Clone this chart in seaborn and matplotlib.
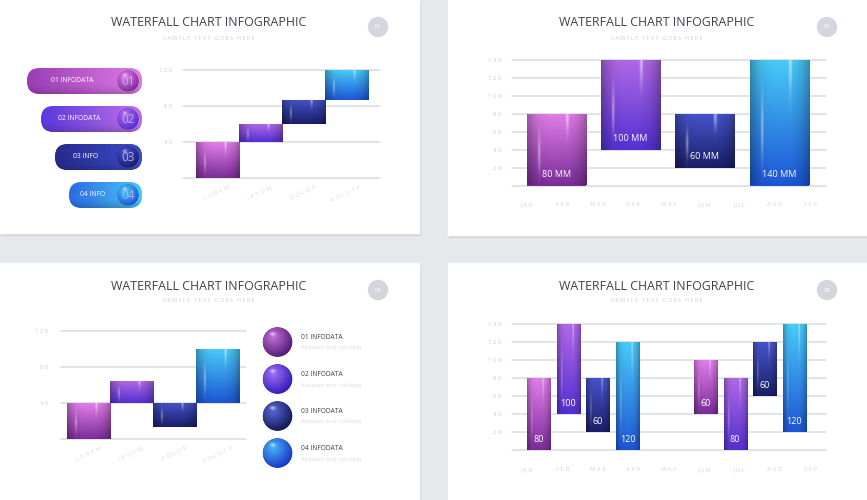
"""
Waterfall chart infographic - four panels on light cards.
"""
import numpy as np
import matplotlib
matplotlib.use("Agg")
import matplotlib.pyplot as plt
import seaborn as sns
from matplotlib.colors import to_rgb
from matplotlib.patches import Rectangle, Circle, FancyBboxPatch

sns.set_style("white")
plt.rcParams['font.family'] = ['Open Sans', 'DejaVu Sans']

# ---- data -------------------------------------------------------------
title = "WATERFALL CHART INFOGRAPHIC"
subtitle = "SAMPLE TEXT GOES HERE"

p1_cats = ['LOREM', 'IPSUM', 'DOLOR', 'VOLUTP']
p1_base = [0, 40, 60, 87]
p1_top = [40, 60, 87, 120]
p1_yticks = [40, 80, 120]
p1_pills = ['01 INFODATA', '02 INFODATA', '03 INFO', '04 INFO']
p1_nums = ['01', '02', '03', '04']

months = ['JAN', 'FEB', 'MAR', 'APR', 'MAY', 'JUN', 'JUL', 'AUG', 'SEP']
p2_base = [0, 40, 20, 0]
p2_top = [80, 140, 80, 140]
p2_labels = ['80 MM', '100 MM', '60 MM', '140 MM']
p2_yticks = [20, 40, 60, 80, 100, 120, 140]

p3_cats = ['LOREM', 'IPSUM', 'DOLOR', 'VOLUTP']
p3_base = [0, 40, 13, 40]
p3_top = [40, 64, 40, 100]
p3_legend = ['01 INFODATA', '02 INFODATA', '03 INFODATA', '04 INFODATA']
p3_sub = 'Aliquam erat volutpat'

p4_base = [0, 40, 20, 0, 40, 0, 60, 20]
p4_top = [80, 140, 80, 120, 100, 80, 120, 140]
p4_labels = ['80', '100', '60', '120', '60', '80', '60', '120']

# gradient colours (top, bottom) for the four series
palette = [('#e27ee9', '#7a2d9a'),
           ('#b068e6', '#5330d2'),
           ('#4654cc', '#1a1e68'),
           ('#48cbf8', '#1d55d6')]
pill_cols = [('#9a3db6', '#de7ae6'),
             ('#5a38e2', '#c070e2'),
             ('#262b8c', '#3c4cc8'),
             ('#2a6ae6', '#4cc8f4')]
sphere_cols = [('#c070d8', '#4e1870'),
               ('#a070f4', '#3018b8'),
               ('#5866d6', '#10154e'),
               ('#48b4f8', '#1530c4')]

W, H = 867, 500
GRID = '#d7dbe2'
TICK = '#c8cdd5'


def spaced(s):
    # crude letter spacing
    return ' '.join(s)


def px(x, y, w, h):
    return [x / W, 1 - (y + h) / H, w / W, h / H]


def bar_image(c_top, c_bot, nx=80, ny=120):
    top = np.array(to_rgb(c_top))
    bot = np.array(to_rgb(c_bot))
    t = np.linspace(0, 1, ny)[:, None, None]
    img = np.repeat(top * (1 - t) + bot * t, nx, axis=1)
    u = np.linspace(-1, 1, nx)
    img = img * (1 - 0.3 * np.abs(u) ** 3)[None, :, None]
    hl = 0.45 * np.exp(-((u + 0.6) / 0.04) ** 2) * np.exp(-((t[:, :, 0] - 0.55) / 0.25) ** 2)
    hl = hl + 0.55 * np.exp(-((u - 0.35) / 0.05) ** 2) * np.exp(-(t[:, :, 0] / 0.25) ** 2)
    img = img + (1 - img) * hl[:, :, None]
    return np.clip(img, 0, 1)


def hgrad(c_left, c_right, nx=120):
    a = np.array(to_rgb(c_left))
    b = np.array(to_rgb(c_right))
    s = np.linspace(0, 1, nx)[None, :, None]
    img = a * (1 - s) + b * s
    v = np.linspace(-1, 1, 30)[:, None, None]
    img = np.repeat(img, 30, axis=0) * (1 - 0.18 * np.clip(v, 0, 1) ** 2)
    return np.clip(img, 0, 1)


def sphere_image(c_light, c_dark, n=80):
    a = np.array(to_rgb(c_light))
    b = np.array(to_rgb(c_dark))
    yy, xx = np.mgrid[-1:1:n * 1j, -1:1:n * 1j]
    d = np.sqrt((xx + 0.3) ** 2 + (yy + 0.35) ** 2) / 1.45
    d = np.clip(d, 0, 1)[:, :, None]
    img = a * (1 - d) + b * d
    spec = np.exp(-(((xx + 0.35) / 0.18) ** 2 + ((yy + 0.55) / 0.12) ** 2))[:, :, None]
    img = img + (1 - img) * 0.6 * spec
    return np.clip(img, 0, 1)


def gradient_bars(ax, xs, base, top, width, colors):
    heights = [t - b for t, b in zip(top, base)]
    bars = ax.bar(xs, heights, bottom=base, width=width,
                  color=[c[1] for c in colors], linewidth=0, zorder=2)
    for patch, (ct, cb) in zip(bars, colors):
        x0, y0 = patch.get_x(), patch.get_y()
        x1, y1 = x0 + patch.get_width(), y0 + patch.get_height()
        im = ax.imshow(bar_image(ct, cb), extent=[x0, x1, y0, y1],
                       aspect='auto', origin='upper', zorder=3)
        im.set_clip_path(patch)
    return bars


def style_axis(ax, ymax, yticks, pad_y=7):
    ax.set_facecolor('none')
    sns.despine(ax=ax, left=True, bottom=True)
    ax.set_ylim(0, ymax)
    ax.set_yticks(yticks)
    ax.set_yticklabels([spaced(str(v)) for v in yticks], fontsize=4.3, color=TICK)
    ax.tick_params(axis='both', length=0)
    ax.tick_params(axis='y', pad=pad_y)
    for v in [0] + list(yticks):
        ax.axhline(v, color=GRID, lw=1.1, zorder=1, clip_on=False)


fig = plt.figure(figsize=(8.67, 5), dpi=100)
fig.patch.set_facecolor('#e6e9ec')

# background / decoration layer in pixel units
bg = fig.add_axes([0, 0, 1, 1])
bg.set_xlim(0, W)
bg.set_ylim(H, 0)
bg.axis('off')

cards = [(0, 0, 419, 233), (448, 0, 419, 235), (0, 263, 419, 237), (448, 263, 419, 237)]
badges = ['01', '02', '03', '04']
for (cx, cy, cw, ch), badge in zip(cards, badges):
    bg.add_patch(Rectangle((cx + 1, cy + 2), cw, ch, color='#d3d7dc', zorder=0))
    bg.add_patch(Rectangle((cx, cy), cw, ch, color='white', zorder=1))
    mid = cx + 209
    bg.text(mid, cy + 23, title, ha='center', va='center', fontsize=8.9,
            color='#3d424d', zorder=5)
    bg.text(mid, cy + 38, spaced(subtitle), ha='center', va='center', fontsize=3.9,
            color='#c9cdd4', zorder=5)
    bx = cx + 378 if cx == 0 else cx + 379
    bg.add_patch(Circle((bx, cy + 27), 9.5, color='#d3d7dd', zorder=4))
    bg.text(bx, cy + 27, badge, ha='center', va='center', fontsize=4.2,
            color='white', zorder=5)

# panel 1 pills
pill_left = [27, 41, 55, 69]
pill_y = [68, 106, 144, 182]
for i, (lab, num) in enumerate(zip(p1_pills, p1_nums)):
    x0, y0, w, h = pill_left[i], pill_y[i], 142 - pill_left[i], 26
    pill = FancyBboxPatch((x0, y0), w, h, boxstyle=f"round,pad=0,rounding_size={h / 2}",
                          linewidth=0, facecolor=pill_cols[i][1], zorder=3)
    bg.add_patch(pill)
    im = bg.imshow(hgrad(*pill_cols[i]), extent=[x0, x0 + w, y0 + h, y0],
                   aspect='auto', origin='upper', zorder=4)
    im.set_clip_path(pill)
    circ = Circle((128, y0 + h / 2), 10.5, facecolor=palette[i][1], linewidth=0, zorder=5)
    bg.add_patch(circ)
    im = bg.imshow(sphere_image(palette[i][0], palette[i][1]),
                   extent=[117.5, 138.5, y0 + h / 2 + 10.5, y0 + h / 2 - 10.5],
                   origin='upper', zorder=6)
    im.set_clip_path(circ)
    bg.text(128, y0 + h / 2 + 0.5, num, ha='center', va='center', fontsize=8.5,
            color='#c4b2f4', alpha=0.9, zorder=7)
    bg.text((x0 + 117) / 2, y0 + h / 2, lab, ha='center', va='center',
            fontsize=4.9, color='white', zorder=7)

# panel 3 spheres and legend text
sphere_y = [342, 379, 416, 453]
for i, (lab, sy) in enumerate(zip(p3_legend, sphere_y)):
    r = 14.7
    circ = Circle((277.5, sy), r, facecolor=sphere_cols[i][1], linewidth=0, zorder=3)
    bg.add_patch(circ)
    im = bg.imshow(sphere_image(*sphere_cols[i]),
                   extent=[277.5 - r, 277.5 + r, sy + r, sy - r], origin='upper', zorder=4)
    im.set_clip_path(circ)
    bg.text(301, sy - 4.5, lab, ha='left', va='center', fontsize=4.8,
            color='#3d424d', zorder=5)
    bg.text(301, sy + 6, p3_sub, ha='left', va='center', fontsize=4.3,
            color='#d8dbe1', zorder=5)

bg.set_xlim(0, W)
bg.set_ylim(H, 0)

# ---- panel 1 ---------------------------------------------------------
ax1 = fig.add_axes(px(183, 70, 197, 108))
x1 = np.arange(len(p1_cats))
gradient_bars(ax1, x1, p1_base, p1_top, 1.0, palette)
style_axis(ax1, 120, p1_yticks, pad_y=8)
ax1.set_xlim(-0.8, 3.78)
ax1.set_xticks(x1)
ax1.set_xticklabels([spaced(c) for c in p1_cats], rotation=25, fontsize=4.6, color='#d9dde3')
ax1.tick_params(axis='x', pad=5)

# ---- panel 2 ---------------------------------------------------------
ax2 = fig.add_axes(px(512, 60, 314, 125.5))
x2 = 0.83 + 2.1 * np.arange(len(p2_base))
gradient_bars(ax2, x2, p2_base, p2_top, 1.67, palette)
style_axis(ax2, 140, p2_yticks, pad_y=8)
ax2.set_xlim(-0.42, 8.45)
ax2.set_xticks(np.arange(len(months)))
ax2.set_xticklabels([spaced(m) for m in months], fontsize=4.2, color='#d0d4da')
ax2.tick_params(axis='x', pad=12)
for xi, b, lab in zip(x2, p2_base, p2_labels):
    ax2.text(xi, b + 12, lab, ha='center', va='center', fontsize=6.5,
             color='white', zorder=6)

# ---- panel 3 ---------------------------------------------------------
ax3 = fig.add_axes(px(61, 331, 185, 108))
x3 = np.arange(len(p3_cats))
gradient_bars(ax3, x3, p3_base, p3_top, 1.0, palette)
style_axis(ax3, 120, p1_yticks, pad_y=9)
ax3.set_xlim(-0.64, 3.66)
ax3.set_xticks(x3)
ax3.set_xticklabels([spaced(c) for c in p3_cats], rotation=25, fontsize=4.6, color='#d9dde3')
ax3.tick_params(axis='x', pad=5)

# ---- panel 4 ---------------------------------------------------------
ax4 = fig.add_axes(px(512, 324.3, 314, 126))
group = 0.835 * np.arange(4)
x4 = np.concatenate([0.34 + group, 5.05 + group])
gradient_bars(ax4, x4, p4_base, p4_top, 0.66, palette + palette)
style_axis(ax4, 140, p2_yticks, pad_y=8)
ax4.set_xlim(-0.42, 8.45)
ax4.set_xticks(np.arange(len(months)))
ax4.set_xticklabels([spaced(m) for m in months], fontsize=4.2, color='#d0d4da')
ax4.tick_params(axis='x', pad=12)
for xi, b, lab in zip(x4, p4_base, p4_labels):
    ax4.text(xi, b + 12, lab, ha='center', va='center', fontsize=6.5,
             color='white', zorder=6)

plt.savefig('out.png', dpi=100, facecolor=fig.get_facecolor())
